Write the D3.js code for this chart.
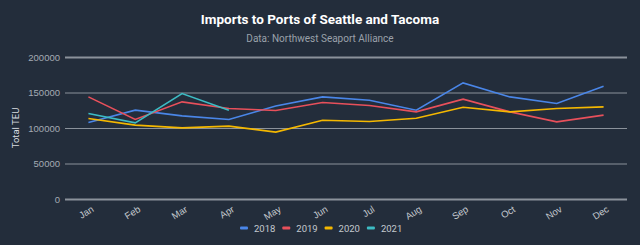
<!DOCTYPE html>
<html>
<head>
<meta charset="utf-8">
<script src="https://cdn.jsdelivr.net/npm/d3@7"></script>
<style>
  html, body { margin: 0; padding: 0; background: #232d3b; }
  svg { display: block; font-family: Roboto, "Noto Sans", sans-serif; }
</style>
</head>
<body>
<div id="chart"></div>
<script>
// data
const months = ["Jan", "Feb", "Mar", "Apr", "May", "Jun", "Jul", "Aug", "Sep", "Oct", "Nov", "Dec"]
const teu2018 = [107800, 125100, 117100, 112000, 131100, 143800, 139100, 125100, 163500, 143800, 134500, 158800]
const teu2019 = [143800, 112000, 136800, 127500, 124600, 135900, 131700, 122700, 140600, 122700, 108600, 118100]
const teu2020 = [113400, 104000, 100200, 102600, 94200, 111000, 109200, 113800, 129300, 122700, 127500, 129700]
const teu2021 = [120400, 107200, 148500, 125100]
const yTicks = [0, 50000, 100000, 150000, 200000]

const series = [
    {name: "2018", values: teu2018, color: "#4a86e8"},
    {name: "2019", values: teu2019, color: "#e8505b"},
    {name: "2020", values: teu2020, color: "#f5b800"},
    {name: "2021", values: teu2021, color: "#3dbcc4"}
]

var margin = {top: 57, right: 13, bottom: 46, left: 65},
    width = 640 - margin.left - margin.right,
    height = 245 - margin.top - margin.bottom;

var root = d3.select("#chart")
    .append("svg")
    .attr("width", 640)
    .attr("height", 245)

root.append("rect").attr("width", 640).attr("height", 245).attr("fill", "#232d3b")

// titles
root.append("text")
    .attr("x", 320).attr("y", 24)
    .attr("text-anchor", "middle")
    .attr("fill", "#ffffff")
    .attr("font-size", "13.5px")
    .attr("font-weight", "bold")
    .text("Imports to Ports of Seattle and Tacoma")
root.append("text")
    .attr("x", 320).attr("y", 42)
    .attr("text-anchor", "middle")
    .attr("fill", "#9aa1aa")
    .attr("font-size", "10px")
    .text("Data: Northwest Seaport Alliance")

var svg = root.append("g")
    .attr("transform", "translate(" + margin.left + "," + margin.top + ")")

var x = d3.scaleBand()
    .domain(months)
    .range([0, width])

var y = d3.scaleLinear()
    .domain([0, 200000])
    .range([height, 0])

// gridlines + y labels
var yAxis = svg.append("g")
    .call(d3.axisLeft(y).tickValues(yTicks).tickSize(-width).tickPadding(5).tickFormat(d3.format("d")))
yAxis.select(".domain").remove()
yAxis.selectAll(".tick line")
    .attr("stroke", "#8b929b")
    .attr("stroke-width", d => (d === 0 || d === 200000) ? 2 : 1)
yAxis.selectAll(".tick text")
    .attr("fill", "#a4abb4")
    .attr("font-size", "9.5px")

// y axis title
root.append("text")
    .attr("transform", "translate(19," + (margin.top + height / 2) + ") rotate(-90)")
    .attr("text-anchor", "middle")
    .attr("fill", "#d8dce0")
    .attr("font-size", "9.5px")
    .text("Total TEU")

// x labels
var xAxis = svg.append("g")
    .attr("transform", "translate(0," + height + ")")
    .call(d3.axisBottom(x).tickSize(0).tickPadding(0))
xAxis.select(".domain").remove()
xAxis.selectAll(".tick text")
    .attr("fill", "#c4c9cf")
    .attr("font-size", "9.5px")
    .attr("text-anchor", "end")
    .attr("dy", "0")
    .attr("transform", "translate(6,12) rotate(-32)")

// lines
var line = d3.line()
    .x((d, i) => x(months[i]) + x.bandwidth() / 2)
    .y(d => y(d))

svg.selectAll("myline")
    .data(series)
    .enter()
    .append("path")
    .attr("d", d => line(d.values))
    .attr("fill", "none")
    .attr("stroke", d => d.color)
    .attr("stroke-width", 1.6)

// legend
var legend = root.append("g")
    .attr("transform", "translate(240,228)")
var item = legend.selectAll("g")
    .data(series)
    .enter()
    .append("g")
    .attr("transform", (d, i) => "translate(" + (i * 42.3) + ",0)")
item.append("rect")
    .attr("x", 0).attr("y", -1.5)
    .attr("width", 8).attr("height", 3)
    .attr("rx", 1)
    .attr("fill", d => d.color)
item.append("text")
    .attr("x", 14).attr("y", 3.5)
    .attr("fill", "#c4c9cf")
    .attr("font-size", "9.5px")
    .text(d => d.name)
</script>
</body>
</html>
